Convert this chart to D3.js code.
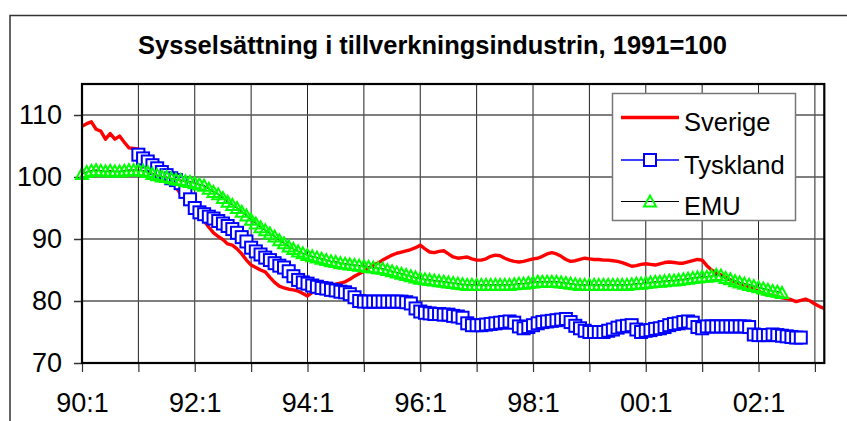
<!DOCTYPE html>
<html><head><meta charset="utf-8">
<script src="https://cdn.jsdelivr.net/npm/d3@7"></script>
<style>
html,body{margin:0;padding:0;background:#fff;}
svg{display:block;font-family:"Liberation Sans",Arial,sans-serif;}
</style></head>
<body>
<svg id="chart" width="847" height="421"></svg>
<script>
const title = "Sysselsättning i tillverkningsindustrin, 1991=100";
const years = ["90","91","92","93","94","95","96","97","98","99","00","01","02","03"];
const tickLabels = ["90:1","92:1","94:1","96:1","98:1","00:1","02:1"];
const yTicks = [70,80,90,100,110];
const seriesNames = ["Sverige","Tyskland","EMU"];
const seriesStart = ["90:1","91:1","90:1"];

const sverige = [108.2,108.6,108.9,107.7,107.4,106.1,107.0,106.1,106.6,105.6,104.7,104.6,
104.5,104.0,103.3,102.6,101.8,101.0,100.2,99.3,98.4,97.2,96.5,95.6,
94.8,93.8,92.9,91.9,91.0,90.4,89.9,89.2,89.0,88.4,87.6,86.6,
85.8,85.4,85.0,84.7,83.8,83.0,82.4,82.1,81.9,81.8,81.6,81.2,
80.8,81.4,81.8,82.2,82.5,82.6,82.7,82.9,83.1,83.5,84.0,84.4,
84.8,85.3,85.8,86.1,86.6,87.0,87.4,87.7,87.9,88.1,88.3,88.6,
89.0,88.4,87.9,87.8,88.0,88.1,87.6,87.1,86.9,87.0,87.1,86.8,
86.6,86.6,86.8,87.2,87.4,87.3,86.9,86.6,86.4,86.3,86.4,86.6,
86.8,86.9,87.2,87.6,87.8,87.6,87.2,86.7,86.4,86.5,86.7,86.9,
86.8,86.7,86.7,86.6,86.6,86.5,86.4,86.2,85.9,85.6,85.7,85.9,
86.0,85.9,85.8,86.0,86.2,86.3,86.2,86.1,86.1,86.3,86.5,86.7,
86.6,85.7,85.0,84.6,84.2,83.8,83.4,83.1,82.8,82.5,82.3,81.9,
81.6,81.2,81.0,80.9,80.7,80.5,80.4,80.2,79.9,80.1,80.3,80.0,
79.5,79.1,78.8];

const tyskland = [103.6,103.0,102.5,101.9,101.4,100.8,100.3,99.8,99.5,99.0,97.6,96.4,
95.0,94.3,94.0,93.6,93.3,92.9,92.5,92.1,91.6,91.0,90.3,89.6,
88.6,88.0,87.5,87.0,86.6,86.1,85.7,85.4,84.8,84.0,83.4,83.0,
82.8,82.5,82.3,82.1,82.0,81.8,81.7,81.5,81.4,81.1,80.6,80.0,
79.9,79.9,79.9,79.9,79.9,79.9,79.9,79.9,79.9,79.8,79.6,78.8,
78.3,78.1,78.0,77.9,77.9,77.8,77.8,77.6,77.5,77.3,76.4,76.1,
76.1,76.1,76.2,76.3,76.4,76.5,76.6,76.7,76.5,75.9,75.6,75.8,
76.1,76.4,76.6,76.7,76.8,76.9,77.0,77.1,76.6,76.0,75.6,75.2,
75.0,75.0,75.0,75.0,75.2,75.4,75.7,75.9,76.0,76.1,75.4,75.0,
75.2,75.3,75.5,75.6,75.8,76.1,76.3,76.4,76.6,76.7,76.5,75.8,
75.6,75.9,75.9,75.9,75.9,75.9,75.9,75.9,75.9,75.9,75.8,74.6,
74.5,74.5,74.5,74.6,74.5,74.4,74.3,74.2,74.1,74.1];

const emu = [100.5,100.8,101.0,101.1,101.0,100.9,101.0,100.9,100.9,101.0,101.1,101.1,
101.1,101.0,100.8,100.5,100.3,100.1,100.0,99.8,99.6,99.5,99.3,99.2,
99.0,98.8,98.6,98.1,97.6,97.2,96.6,96.0,95.5,95.0,94.4,93.8,
93.1,92.5,91.9,91.4,90.9,90.4,89.8,89.3,88.8,88.4,88.0,87.7,
87.4,87.2,87.0,86.8,86.6,86.4,86.3,86.1,86.0,85.9,85.8,85.7,
85.6,85.5,85.4,85.3,85.2,85.0,84.8,84.6,84.4,84.2,84.0,83.8,
83.6,83.5,83.4,83.3,83.2,83.1,83.0,82.9,82.8,82.7,82.6,82.6,
82.6,82.6,82.6,82.6,82.6,82.6,82.6,82.6,82.7,82.8,82.8,82.9,
83.0,83.1,83.1,83.1,83.1,83.1,83.0,82.9,82.8,82.7,82.6,82.6,
82.6,82.6,82.6,82.6,82.6,82.6,82.6,82.6,82.6,82.7,82.8,82.8,
82.9,83.0,83.1,83.1,83.2,83.3,83.3,83.4,83.5,83.6,83.7,83.8,
83.9,83.9,84.0,84.2,84.1,83.7,83.5,83.2,83.0,82.8,82.6,82.4,
82.2,82.0,81.8,81.6,81.5,81.3];

// period labels "YY:M" (categories)
const periods = [];
years.forEach(y => { for (let m = 1; m <= 12; m++) periods.push(y + ":" + m); });
const categories = periods.slice(0, sverige.length);

const svg = d3.select("#chart");
const font = '"Liberation Sans",Arial,sans-serif';

const plot = {left: 82, right: 824.3, top: 84, bottom: 363};
const x = d3.scalePoint().domain(categories).range([plot.left, plot.right]);
const y = d3.scaleLinear().domain([70, 115]).range([plot.bottom, plot.top]);

// outer chart border
svg.append("rect").attr("x", 10).attr("y", 15.5).attr("width", 860).attr("height", 430)
  .attr("fill", "#fff").attr("stroke", "#333").attr("stroke-width", 1.5);

// title
svg.append("text").attr("x", 432.5).attr("y", 54).attr("text-anchor", "middle")
  .attr("font-family", font).attr("font-weight", "bold").attr("font-size", 25.5)
  .attr("fill", "#000").text(title);

// gridlines
const yearTicks = categories.filter(c => c.endsWith(":1"));
svg.append("g").selectAll("line").data(yearTicks).join("line")
  .attr("x1", d => x(d)).attr("x2", d => x(d))
  .attr("y1", plot.top).attr("y2", plot.bottom)
  .attr("stroke", "#222").attr("stroke-width", 1);
svg.append("g").selectAll("line").data(yTicks.slice(1)).join("line")
  .attr("x1", plot.left).attr("x2", plot.right)
  .attr("y1", d => y(d)).attr("y2", d => y(d))
  .attr("stroke", "#555").attr("stroke-width", 1.6);

// axes
const yAxis = d3.axisLeft(y).tickValues(yTicks).tickSize(8).tickPadding(12).tickFormat(d3.format("d"));
const gy = svg.append("g").attr("transform", `translate(${plot.left},0)`).call(yAxis);
gy.select(".domain").remove();
gy.selectAll(".tick line").attr("stroke", "#333").attr("stroke-width", 1.5);
gy.selectAll(".tick text").attr("font-family", font).attr("font-size", 27).attr("fill", "#000");

const xAxis = d3.axisBottom(x).tickValues(yearTicks).tickSize(9).tickPadding(21)
  .tickFormat(d => tickLabels.includes(d) ? d : "");
const gx = svg.append("g").attr("transform", `translate(0,${plot.bottom})`).call(xAxis);
gx.select(".domain").remove();
gx.selectAll(".tick line").attr("stroke", "#333").attr("stroke-width", 1.2);
gx.selectAll(".tick text").attr("font-family", font).attr("font-size", 27).attr("fill", "#000");

function pts(values, start) {
  const s = categories.indexOf(start);
  return values.map((v, i) => ({c: categories[s + i], v}));
}
const line = d3.line().x(d => x(d.c)).y(d => y(d.v));

// Sverige
const sv = pts(sverige, seriesStart[0]);
svg.append("path").datum(sv).attr("d", line).attr("fill", "none")
  .attr("stroke", "#ff0000").attr("stroke-width", 3.4).attr("stroke-linejoin", "round");

// Tyskland
const ty = pts(tyskland, seriesStart[1]);
svg.append("path").datum(ty).attr("d", line).attr("fill", "none")
  .attr("stroke", "#0000ff").attr("stroke-width", 1.5);
svg.append("g").selectAll("rect").data(ty).join("rect")
  .attr("x", d => x(d.c) - 6).attr("y", d => y(d.v) - 6)
  .attr("width", 12).attr("height", 12)
  .attr("fill", "#fff").attr("stroke", "#0000ff").attr("stroke-width", 2);

// EMU
const em = pts(emu, seriesStart[2]);
svg.append("path").datum(em).attr("d", line).attr("fill", "none")
  .attr("stroke", "#000").attr("stroke-width", 1.2);
const tri = "M0,-6L6,5L-6,5Z";
svg.append("g").selectAll("path").data(em).join("path")
  .attr("transform", d => `translate(${x(d.c)},${y(d.v)})`)
  .attr("d", tri).attr("fill", "none").attr("stroke", "#00ff00").attr("stroke-width", 2);

// plot frame
svg.append("rect").attr("x", plot.left).attr("y", plot.top)
  .attr("width", plot.right - plot.left).attr("height", plot.bottom - plot.top)
  .attr("fill", "none").attr("stroke", "#000").attr("stroke-width", 2.2);

// legend
const lg = svg.append("g");
lg.append("rect").attr("x", 612.5).attr("y", 93.5).attr("width", 183).attr("height", 127)
  .attr("fill", "#fff").attr("stroke", "#777").attr("stroke-width", 1.5);
const ly = [117.5, 160, 201.5];
const lcol = ["#ff0000", "#0000ff", "#000"];
const lw = [3.5, 1.5, 1.2];
seriesNames.forEach((n, i) => {
  lg.append("line").attr("x1", 621).attr("x2", 679).attr("y1", ly[i]).attr("y2", ly[i])
    .attr("stroke", lcol[i]).attr("stroke-width", lw[i]);
  lg.append("text").attr("x", 684).attr("y", ly[i] + 5.5)
    .attr("dy", "0.32em").attr("font-family", font).attr("font-size", 25.5).attr("fill", "#000").text(n);
});
lg.append("rect").attr("x", 644).attr("y", ly[1] - 6).attr("width", 12).attr("height", 12)
  .attr("fill", "#fff").attr("stroke", "#0000ff").attr("stroke-width", 2);
lg.append("path").attr("transform", `translate(650,${ly[2]})`).attr("d", tri)
  .attr("fill", "none").attr("stroke", "#00ff00").attr("stroke-width", 2);
</script>
</body></html>
